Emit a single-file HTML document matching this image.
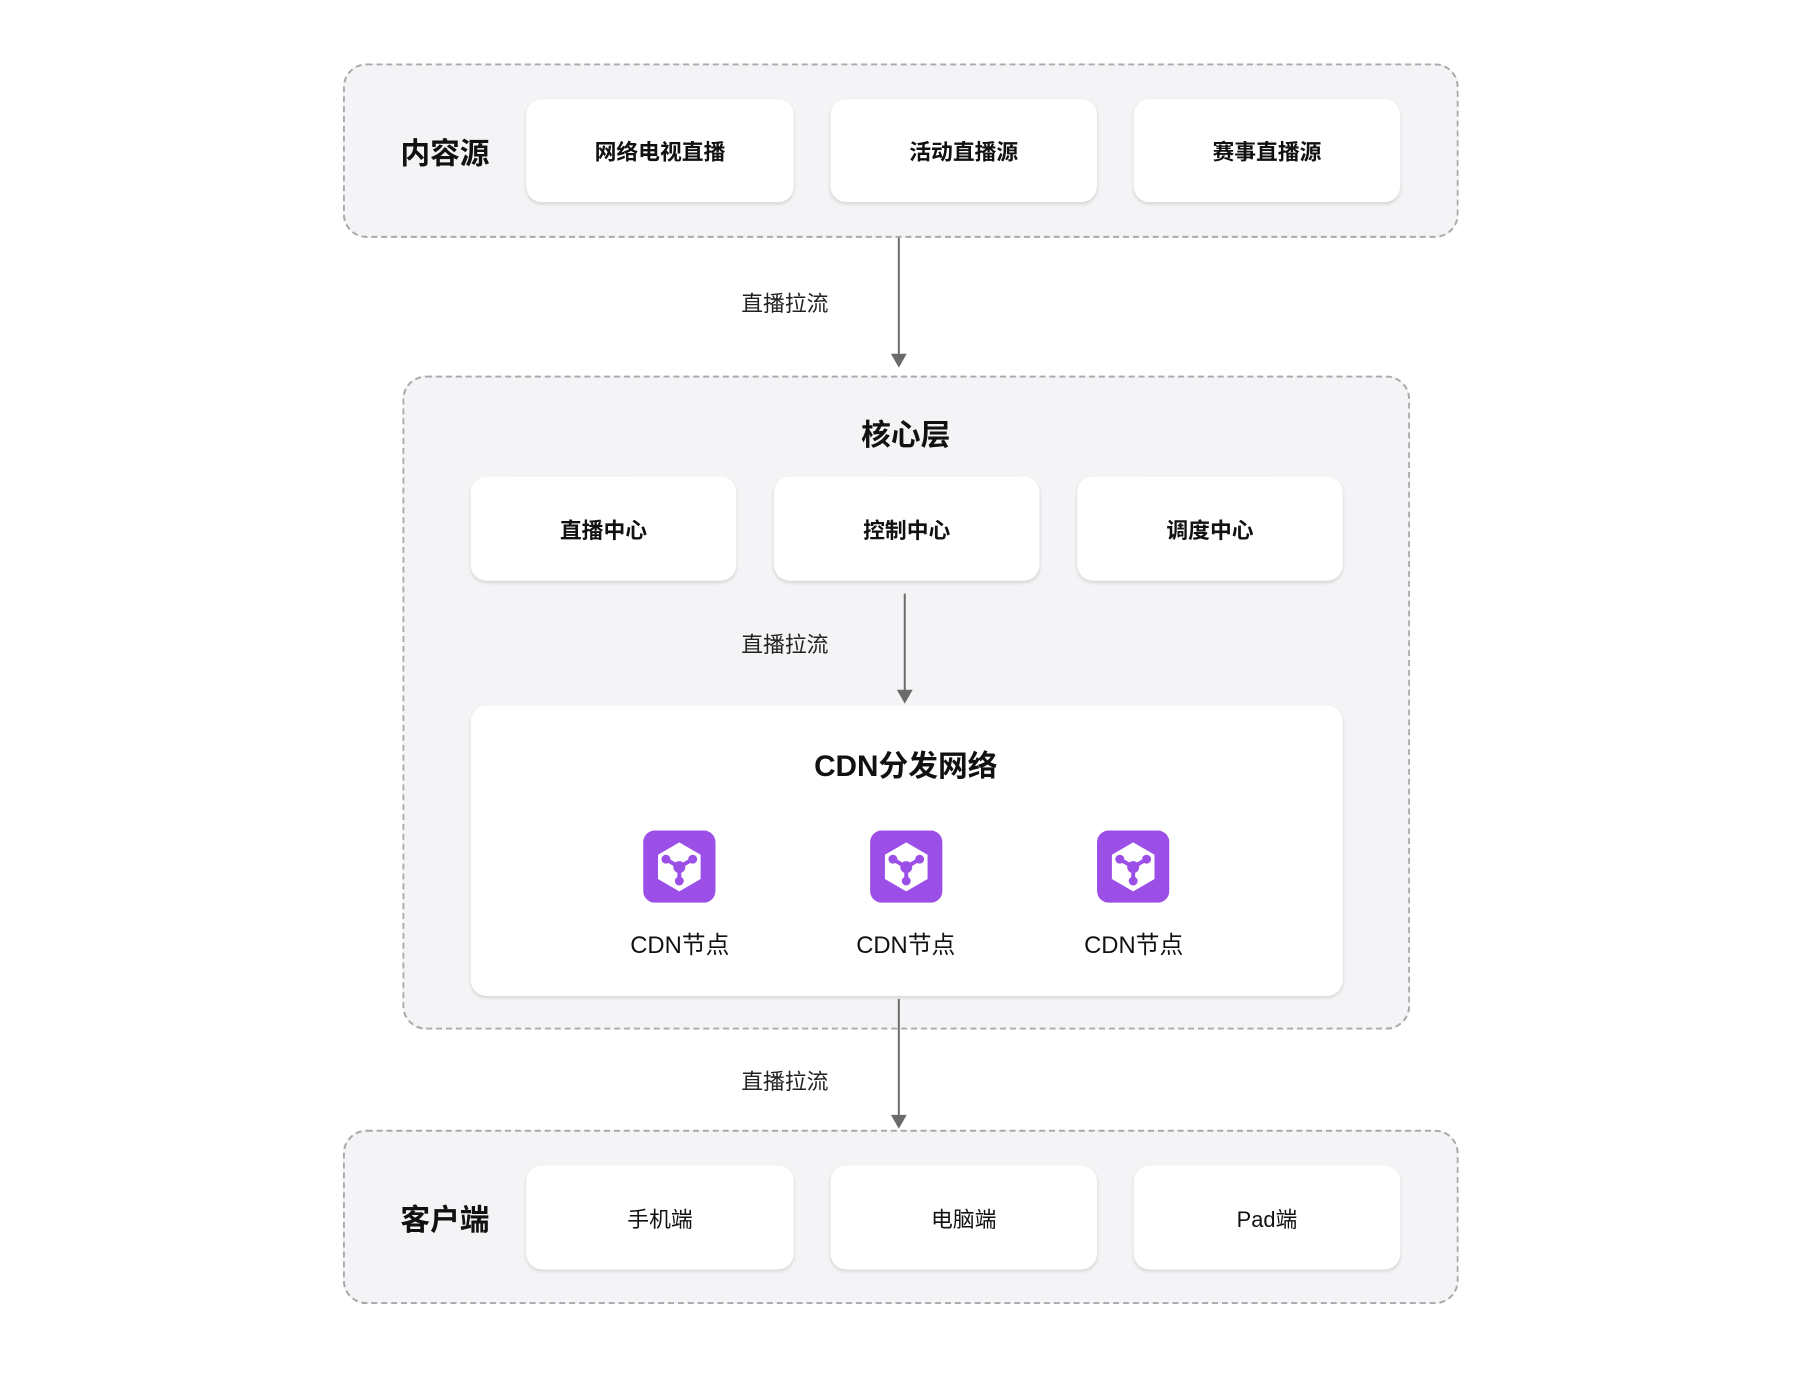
<!DOCTYPE html>
<html><head><meta charset="utf-8"><style>
*{margin:0;padding:0;box-sizing:border-box}
body{width:1800px;height:1380px;background:#fff;position:relative;font-family:"Liberation Sans","Noto Sans CJK SC",sans-serif;color:#111;overflow:hidden}
#w{position:absolute;left:0;top:0;width:1800px;height:1380px;transform-origin:0 0;transform:translate(-2px,-1px) scale(0.991)}
.grp{position:absolute;background:#f4f4f6;border:2px dashed #a9a9ab;border-radius:24px}
.card{position:absolute;background:#fff;border-radius:16px;box-shadow:0 2px 3px rgba(0,0,0,0.12);display:flex;align-items:center;justify-content:center;font-size:22px}
.b{font-weight:bold}
.t{position:absolute;transform:translate(-50%,-50%);white-space:nowrap}
.lbl{font-size:30px;font-weight:bold}
.el{font-size:22px;color:#222}
.ln{position:absolute;width:2px;background:#6b6b6b}
.ah{position:absolute;width:0;height:0;border-left:8px solid transparent;border-right:8px solid transparent;border-top:14px solid #6b6b6b}
.ic{position:absolute;width:73px;height:73px}
.nl{font-size:24px}
</style></head><body><div id="w">
<div class="grp" style="left:348px;top:65px;width:1126px;height:176px"></div>
<div class="t lbl" style="left:451px;top:153px">内容源</div>
<div class="card b" style="left:533px;top:101px;width:270px;height:104px">网络电视直播</div>
<div class="card b" style="left:840px;top:101px;width:269px;height:104px">活动直播源</div>
<div class="card b" style="left:1146px;top:101px;width:269px;height:104px">赛事直播源</div>

<div class="ln" style="left:908px;top:241px;height:118px"></div>
<div class="ah" style="left:901px;top:358px"></div>
<div class="t el" style="left:794px;top:306px">直播拉流</div>

<div class="grp" style="left:408px;top:380px;width:1017px;height:660px"></div>
<div class="t lbl" style="left:916px;top:437px">核心层</div>
<div class="card b" style="left:477px;top:482px;width:268px;height:105px">直播中心</div>
<div class="card b" style="left:783px;top:482px;width:268px;height:105px">控制中心</div>
<div class="card b" style="left:1089px;top:482px;width:268px;height:105px">调度中心</div>

<div class="ln" style="left:914px;top:600px;height:98px"></div>
<div class="ah" style="left:907px;top:697px"></div>
<div class="t el" style="left:794px;top:650px">直播拉流</div>

<div class="card" style="left:477px;top:713px;width:880px;height:293px"></div>
<div class="t lbl" style="left:916px;top:771px;font-weight:bold">CDN分发网络</div>

<svg class="ic" style="left:651px;top:839px" viewBox="0 0 73 73"><rect width="73" height="73" rx="12" fill="#9b4fe6"/><polygon points="36.5,12 58,24.5 58,49 36.5,61.5 15,49 15,24.5" fill="#fff"/><g stroke="#9b4fe6" stroke-width="4"><line x1="36.5" y1="37" x2="23" y2="29"/><line x1="36.5" y1="37" x2="50" y2="29"/><line x1="36.5" y1="37" x2="36.5" y2="51"/></g><circle cx="36.5" cy="37" r="6" fill="#9b4fe6"/><circle cx="23" cy="29" r="4.5" fill="#9b4fe6"/><circle cx="50" cy="29" r="4.5" fill="#9b4fe6"/><circle cx="36.5" cy="51" r="4.5" fill="#9b4fe6"/></svg>
<svg class="ic" style="left:880px;top:839px" viewBox="0 0 73 73"><rect width="73" height="73" rx="12" fill="#9b4fe6"/><polygon points="36.5,12 58,24.5 58,49 36.5,61.5 15,49 15,24.5" fill="#fff"/><g stroke="#9b4fe6" stroke-width="4"><line x1="36.5" y1="37" x2="23" y2="29"/><line x1="36.5" y1="37" x2="50" y2="29"/><line x1="36.5" y1="37" x2="36.5" y2="51"/></g><circle cx="36.5" cy="37" r="6" fill="#9b4fe6"/><circle cx="23" cy="29" r="4.5" fill="#9b4fe6"/><circle cx="50" cy="29" r="4.5" fill="#9b4fe6"/><circle cx="36.5" cy="51" r="4.5" fill="#9b4fe6"/></svg>
<svg class="ic" style="left:1109px;top:839px" viewBox="0 0 73 73"><rect width="73" height="73" rx="12" fill="#9b4fe6"/><polygon points="36.5,12 58,24.5 58,49 36.5,61.5 15,49 15,24.5" fill="#fff"/><g stroke="#9b4fe6" stroke-width="4"><line x1="36.5" y1="37" x2="23" y2="29"/><line x1="36.5" y1="37" x2="50" y2="29"/><line x1="36.5" y1="37" x2="36.5" y2="51"/></g><circle cx="36.5" cy="37" r="6" fill="#9b4fe6"/><circle cx="23" cy="29" r="4.5" fill="#9b4fe6"/><circle cx="50" cy="29" r="4.5" fill="#9b4fe6"/><circle cx="36.5" cy="51" r="4.5" fill="#9b4fe6"/></svg>
<div class="t nl" style="left:688px;top:952px">CDN节点</div>
<div class="t nl" style="left:916px;top:952px">CDN节点</div>
<div class="t nl" style="left:1146px;top:952px">CDN节点</div>

<div class="ln" style="left:908px;top:1009px;height:118px"></div>
<div class="ah" style="left:901px;top:1126px"></div>
<div class="t el" style="left:794px;top:1091px">直播拉流</div>

<div class="grp" style="left:348px;top:1141px;width:1126px;height:176px"></div>
<div class="t lbl" style="left:451px;top:1229px">客户端</div>
<div class="card" style="left:533px;top:1177px;width:270px;height:105px">手机端</div>
<div class="card" style="left:840px;top:1177px;width:269px;height:105px">电脑端</div>
<div class="card" style="left:1146px;top:1177px;width:269px;height:105px">Pad端</div>
</div></body></html>
